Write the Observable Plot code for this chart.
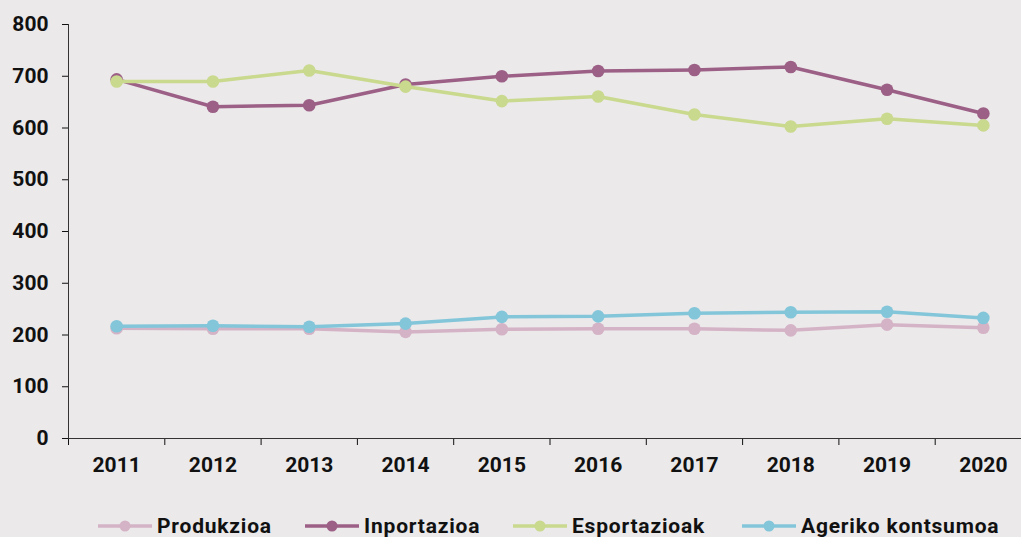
<!DOCTYPE html>
<html>
<head>
<meta charset="utf-8">
<script src="https://cdn.jsdelivr.net/npm/d3@7"></script>
<script src="https://cdn.jsdelivr.net/npm/@observablehq/plot@0.6"></script>
<style>
  html, body { margin: 0; padding: 0; background: #ebe9ea; overflow: hidden; }
  #chart { width: 1021px; height: 537px; position: relative; }
  #legend { position: absolute; left: 0; top: 490px; width: 1021px; height: 47px;
    font-family: Roboto, "Liberation Sans", sans-serif; font-weight: 700; font-size: 21px; letter-spacing: 0.8px; color: #111; }
  .item { position: absolute; top: 25px; display: flex; align-items: center; height: 22px; white-space: nowrap; }
  .item svg { margin-right: 5px; }
</style>
</head>
<body>
<div id="chart"><div id="plot"></div><div id="legend"></div></div>
<script>
const years = [2011, 2012, 2013, 2014, 2015, 2016, 2017, 2018, 2019, 2020];
const seriesNames = ["Produkzioa", "Inportazioa", "Esportazioak", "Ageriko kontsumoa"];
const produkzioa = [213, 212, 212, 206, 211, 212, 212, 209, 220, 214];
const inportazioa = [694, 641, 644, 684, 700, 710, 712, 718, 674, 628];
const esportazioak = [690, 690, 711, 680, 652, 661, 626, 603, 618, 605];
const agerikoKontsumoa = [217, 218, 216, 222, 235, 236, 242, 244, 245, 233];
const colors = ["#d5b3c6", "#9c5f86", "#c9d98d", "#83c6da"];
const yTicks = [0, 100, 200, 300, 400, 500, 600, 700, 800];

const seriesValues = [produkzioa, inportazioa, esportazioak, agerikoKontsumoa];
const rows = [];
seriesNames.forEach((name, i) => {
  years.forEach((yr, j) => rows.push({series: name, year: yr, value: seriesValues[i][j]}));
});
const boundaries = years.map(y => y - 0.5).concat([years[years.length - 1] + 0.5]);

const marks = [];
seriesNames.forEach((name, i) => {
  const d = rows.filter(r => r.series === name);
  marks.push(Plot.line(d, {x: "year", y: "value", stroke: colors[i], strokeWidth: 3.5}));
  marks.push(Plot.dot(d, {x: "year", y: "value", fill: colors[i], r: 6.3}));
});

const plot = Plot.plot({
  width: 1021,
  height: 490,
  marginTop: 24,
  marginBottom: 52,
  marginLeft: 68,
  marginRight: -10,
  style: {background: "#ebe9ea", fontFamily: "Roboto, 'Liberation Sans', sans-serif", fontSize: "21px", fontWeight: 700, color: "#111"},
  x: {type: "linear", domain: [boundaries[0], boundaries[boundaries.length - 1]], ticks: boundaries, tickSize: 7, tickFormat: () => "", label: null},
  y: {domain: [0, 800], ticks: yTicks, tickSize: 6, tickPadding: 14, tickFormat: d => String(d), label: null},
  marks: [
    Plot.ruleY([0], {stroke: "#333", strokeWidth: 1}),
    Plot.ruleX([boundaries[0]], {stroke: "#333", strokeWidth: 1}),
    Plot.text(years, {x: d => d, y: () => 0, text: d => String(d), dy: 27, lineAnchor: "middle", fontSize: 21, fontWeight: 700, fill: "#111"}),
    ...marks
  ]
});
document.getElementById("plot").appendChild(plot);

const lefts = [98, 305, 513, 742];
const legend = document.getElementById("legend");
seriesNames.forEach((name, i) => {
  const item = document.createElement("div");
  item.className = "item";
  item.style.left = lefts[i] + "px";
  item.innerHTML = `<svg width="54" height="14"><line x1="0" x2="54" y1="7" y2="7" stroke="${colors[i]}" stroke-width="3.5"/><circle cx="27" cy="7" r="5.5" fill="${colors[i]}"/></svg><span>${name}</span>`;
  legend.appendChild(item);
});
</script>
</body>
</html>
